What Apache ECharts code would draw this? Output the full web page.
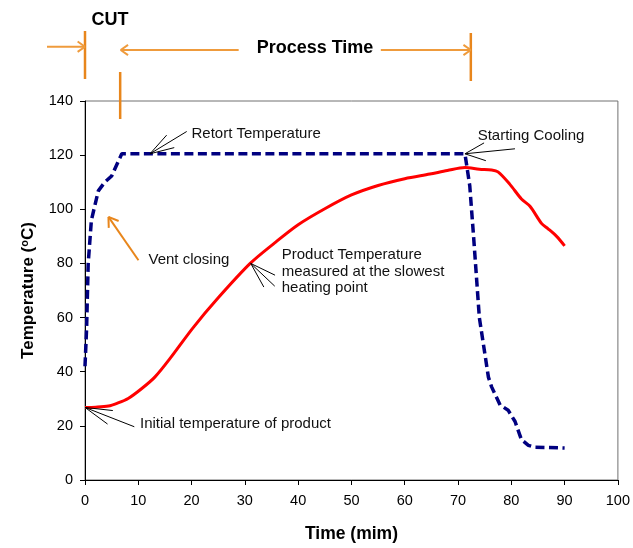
<!DOCTYPE html>
<html>
<head>
<meta charset="utf-8">
<script src="https://cdn.jsdelivr.net/npm/echarts@6/dist/echarts.min.js"></script>
<style>html,body{margin:0;padding:0;background:#fff}#c{width:633px;height:548px}</style>
</head>
<body>
<div id="c"></div>
<script>
// ---- data ----
var retortTime = [0, 0.3, 0.6, 1.2, 2.5, 3.7, 5, 6.9, 71.3, 72.2, 72.9, 74, 75.7, 76.3, 77.9, 79.4, 80.7, 81.9, 83.2, 84.4, 87, 90];
var retortTemp = [42, 56, 80, 96, 106.8, 110, 112.3, 120.5, 120.5, 108.7, 90.4, 60, 38, 34.4, 27.7, 25.8, 21.6, 14.9, 12.8, 12.1, 12, 11.8];
var productTime = [0, 2, 4.4, 6, 8.1, 10.6, 13.1, 16, 20.3, 25, 31, 35.6, 40, 45, 50, 55, 60, 64.7, 68, 71.3, 74, 76.3, 77.5, 79.7, 81.9, 83.5, 85.7, 86.9, 88.5, 90];
var productTemp = [26.8, 26.9, 27.3, 28.3, 30.1, 33.7, 38, 45, 56.3, 67.3, 80, 87.6, 94.3, 100.2, 105.3, 108.8, 111.3, 113, 114.3, 115.4, 114.8, 114.5, 113.8, 109.3, 103.8, 101.1, 94.7, 92.8, 90, 86.5];
var xTicks = [0, 100, 10];   // min, max, interval
var yTicks = [0, 140, 20];
var cutStart = 0, cutEnd = 6.6, coolStart = 72.4;

function pairs(xs, ys) { return xs.map(function (x, i) { return [x, ys[i]]; }); }

var FONT = "'Liberation Sans', Arial, sans-serif";
var chart = echarts.init(document.getElementById('c'), null, {renderer: 'canvas'});
chart.setOption({
  animation: false,
  backgroundColor: '#fff',
  grid: {left: 85, right: 15, top: 101, bottom: 64, show: true, borderColor: '#707070', borderWidth: 1},
  xAxis: {
    type: 'value', min: xTicks[0], max: xTicks[1], interval: xTicks[2],
    name: 'Time (mim)', nameLocation: 'middle', nameGap: 45,
    nameTextStyle: {fontFamily: FONT, fontWeight: 'bold', fontSize: 17.5, color: '#000'},
    axisLine: {lineStyle: {color: '#000', width: 1}},
    axisTick: {show: true, inside: false, length: 5, lineStyle: {color: '#000'}},
    axisLabel: {fontFamily: FONT, fontSize: 14.5, color: '#000', margin: 13},
    splitLine: {show: false}
  },
  yAxis: {
    type: 'value', min: yTicks[0], max: yTicks[1], interval: yTicks[2],
    name: '{a|Temperature (}{s|o}{a|C)}', nameLocation: 'middle', nameGap: 48,
    nameTextStyle: {rich: {
      a: {fontFamily: FONT, fontWeight: 'bold', fontSize: 17, color: '#000'},
      s: {fontFamily: FONT, fontWeight: 'bold', fontSize: 11, color: '#000', verticalAlign: 'top', padding: [0, 0, 7, 0]}
    }},
    axisLine: {show: true, lineStyle: {color: '#000', width: 1}},
    axisTick: {show: true, inside: false, length: 5, lineStyle: {color: '#000'}},
    axisLabel: {fontFamily: FONT, fontSize: 14.5, color: '#000', margin: 12},
    splitLine: {show: false}
  },
  series: [
    {type: 'line', name: 'Product', data: pairs(productTime, productTemp), symbol: 'none', smooth: 0.3,
     lineStyle: {color: '#FF0000', width: 3}, z: 2},
    {type: 'line', name: 'Retort', data: pairs(retortTime, retortTemp), symbol: 'none',
     lineStyle: {color: '#000080', width: 3.5, type: [9, 4.5]}, z: 3}
  ]
});

function px(x, y) { return chart.convertToPixel({gridIndex: 0}, [x, y]); }
var els = [];
function line(x1, y1, x2, y2, color, w) {
  els.push({type: 'line', silent: true, z: 50, shape: {x1: x1, y1: y1, x2: x2, y2: y2},
            style: {stroke: color, lineWidth: w}});
}
function text(str, x, y, opt) {
  opt = opt || {};
  els.push({type: 'text', silent: true, z: 60, style: {
    text: str, x: x, y: y, fill: opt.color || '#111',
    font: (opt.bold ? 'bold ' : '') + (opt.size || 15) + 'px ' + FONT,
    textAlign: opt.align || 'left', textVerticalAlign: 'middle',
    align: opt.align || 'left', verticalAlign: 'middle'
  }});
}
// arrow whose head is at (ax, ay), tail along vector (dx, dy)
function callout(ax, ay, dx, dy, barbLen, halfDeg, color, w) {
  line(ax, ay, ax + dx, ay + dy, color, w);
  var ang = Math.atan2(dy, dx), h = halfDeg * Math.PI / 180;
  line(ax, ay, ax + barbLen * Math.cos(ang + h), ay + barbLen * Math.sin(ang + h), color, w);
  line(ax, ay, ax + barbLen * Math.cos(ang - h), ay + barbLen * Math.sin(ang - h), color, w);
}

var OR = '#E8861C', ORL = '#EF9B3C';
var p0 = px(cutStart, 0)[0], p1 = px(cutEnd, 0)[0], p2 = px(coolStart, 0)[0];
line(p0, 31, p0, 79, OR, 2.5);
line(p1, 72, p1, 119, OR, 2.5);
line(p2, 33, p2, 81, OR, 2.5);
callout(p0, 46.7, -38, 0, 9, 35, ORL, 2);
callout(p1 + 0.5, 50, 118, 0, 9, 35, ORL, 2);
callout(p2, 50, -90, 0, 9, 35, ORL, 2);
text('CUT', p0 + 6.5, 20, {bold: true, size: 18, color: '#000'});
text('Process Time', 315, 48, {bold: true, size: 18, color: '#000', align: 'center'});

// Retort temperature callout
var a = px(12.2, 120.5);
callout(a[0], a[1], 36.7, -22.3, 25, 17, '#000', 1);
text('Retort Temperature', a[0] + 41.5, a[1] - 20, {size: 15});

// Starting cooling callout
a = px(71.3, 120.5);
callout(a[0], a[1], 50, -5, 22, 24, '#000', 1);
text('Starting Cooling', a[0] + 12.7, a[1] - 18.3, {size: 15});

// Product temperature callout
a = px(31.1, 80);
callout(a[0], a[1], 24, 22.7, 27, 17.6, '#000', 1);
text('Product Temperature', a[0] + 31, a[1] - 8.3, {size: 15});
text('measured at the slowest', a[0] + 31, a[1] + 8.3, {size: 15});
text('heating point', a[0] + 31, a[1] + 24.3, {size: 15});

// Initial temperature callout
a = px(0, 26.8);
callout(a[0], a[1], 49.3, 19.3, 28, 15, '#000', 1);
text('Initial temperature of product', a[0] + 55, a[1] + 16, {size: 15});

// Vent closing
a = px(4.4, 97.2);
callout(a[0], a[1], 30, 43.4, 11, 33, OR, 2);
text('Vent closing', a[0] + 40, a[1] + 42.7, {size: 15});

chart.setOption({graphic: {elements: els}});
</script>
</body>
</html>
